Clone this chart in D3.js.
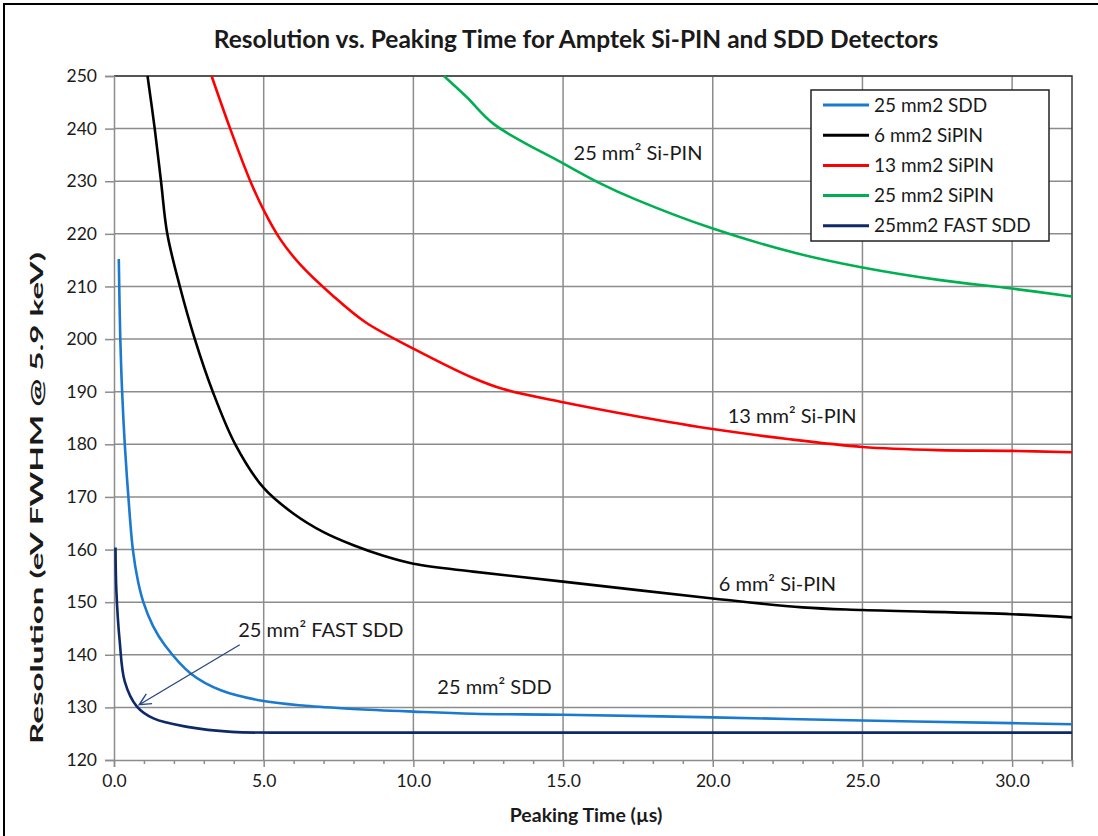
<!doctype html>
<html>
<head>
	<script src="https://d3js.org/d3.v7.min.js"></script>
	<style>
		body { margin: 0; background: #fff; }
		text { font-family: Lato, "Open Sans", sans-serif; fill: #1a1a1a; }
	</style>
</head>
<body>
	<svg id="chart" width="1098" height="836"></svg>
	<script>

		// series: peaking time (us) and resolution (eV FWHM)
		var sdd25T = [0.16, 0.21, 0.27, 0.36, 0.48, 0.63, 0.8, 0.98, 1.3, 1.7, 2.57, 3.59, 5, 6.4, 8, 10, 12, 15, 20, 25, 30, 32];
		var sdd25R = [215.2, 200, 190.2, 180, 170, 160, 154, 150, 145.5, 141.8, 136.4, 133.2, 131.2, 130.3, 129.7, 129.2, 128.8, 128.6, 128.1, 127.5, 127, 126.8];

		var pin6T = [1.12, 1.36, 1.57, 1.78, 2.2, 2.7, 3.3, 4.05, 5, 6, 7, 8, 9, 10, 12, 15, 20, 23, 25, 30, 32];
		var pin6R = [250, 240, 230, 220, 210, 200, 190, 180, 171.7, 166.8, 163.3, 160.8, 158.8, 157.3, 155.8, 153.9, 150.7, 149, 148.5, 147.7, 147.1];

		var pin13T = [3.26, 3.88, 4.54, 5, 5.55, 6.2, 7.3, 8.4, 10, 12, 13, 15, 17.5, 20, 22.5, 25, 27.5, 30, 32];
		var pin13R = [250, 240, 230.2, 224.5, 219, 214.3, 208.3, 203.2, 198.2, 192.6, 190.5, 188, 185.3, 182.9, 181, 179.5, 178.9, 178.75, 178.5];

		var pin25T = [11.02, 11.78, 12.7, 15, 16.24, 17.4, 20, 22.8, 25, 27.6, 30, 32];
		var pin25R = [250, 246, 240.8, 233.4, 229.6, 226.6, 221, 216.3, 213.6, 211.2, 209.6, 208.1];

		var fastT = [0.05, 0.08, 0.19, 0.36, 0.76, 1.32, 2.45, 3.93, 6.4, 10, 15, 20, 25, 30, 32];
		var fastR = [160.4, 152.1, 142.6, 134.9, 130.2, 127.9, 126.3, 125.35, 125.2, 125.2, 125.2, 125.2, 125.2, 125.2, 125.2];

		var seriesNames = ["25 mm2 SDD", "6 mm2 SiPIN", "13 mm2 SiPIN", "25 mm2 SiPIN", "25mm2 FAST SDD"];
		var seriesColors = ["#1a7ad0", "#000000", "#ff0000", "#00b050", "#0e2a66"];

		var xTicks = [0, 5, 10, 15, 20, 25, 30];
		var yTicks = [120, 130, 140, 150, 160, 170, 180, 190, 200, 210, 220, 230, 240, 250];

		// curve labels: [text, time, resolution]
		var labels = [
			["25 mm² Si-PIN", 15.35, 234.0],
			["13 mm² Si-PIN", 20.5, 184.0],
			["6 mm² Si-PIN", 20.2, 152.2],
			["25 mm² SDD", 10.8, 132.5],
			["25 mm² FAST SDD", 4.15, 143.3]
		];
		var arrowFrom = [4.2, 141.9];
		var arrowTo = [0.84, 130.5];

		var series = [
			{t: sdd25T, r: sdd25R},
			{t: pin6T, r: pin6R},
			{t: pin13T, r: pin13R},
			{t: pin25T, r: pin25R},
			{t: fastT, r: fastR}
		];

		var margin = {top: 76, right: 26, bottom: 76, left: 114};
		var width = 1098, height = 836;

		var svg = d3.select("#chart");

		// outer frame (left and top edges only are in the picture)
		svg.append("path")
			.attr("d", "M4,836V4H1098")
			.attr("fill", "none")
			.attr("stroke", "#000")
			.attr("stroke-width", 2);

		var xScale = d3.scaleLinear()
								.domain([0, 32])
								.range([margin.left, width - margin.right]);

		var yScale = d3.scaleLinear()
								.domain([120, 250])
								.range([height - margin.bottom, margin.top]);

		// grid
		svg.append("g")
			.selectAll("line")
			.data(xTicks.slice(1))
			.enter()
			.append("line")
				.attr("x1", d => xScale(d)).attr("x2", d => xScale(d))
				.attr("y1", yScale(120)).attr("y2", yScale(250))
				.attr("stroke", "#8c8c8c").attr("stroke-width", 1.5);

		svg.append("g")
			.selectAll("line")
			.data(yTicks.slice(1))
			.enter()
			.append("line")
				.attr("x1", xScale(0)).attr("x2", xScale(32))
				.attr("y1", d => yScale(d)).attr("y2", d => yScale(d))
				.attr("stroke", "#8c8c8c").attr("stroke-width", 1.5);

		// plot area border: top and right are dark
		svg.append("path")
			.attr("d", "M" + xScale(0) + "," + yScale(250) + "H" + xScale(32) + "V" + yScale(120))
			.attr("fill", "none")
			.attr("stroke", "#3a3a3a")
			.attr("stroke-width", 1.5);

		// axes
		var xAxis = d3.axisBottom(xScale)
			.tickValues(xTicks)
			.tickSize(7)
			.tickPadding(8)
			.tickFormat(d3.format(".1f"));

		var xMinor = d3.axisBottom(xScale)
			.tickValues(d3.range(0, 33, 1).filter(d => d % 5 !== 0))
			.tickSize(4)
			.tickFormat("");

		var yAxis = d3.axisLeft(yScale)
			.tickValues(yTicks)
			.tickSize(9)
			.tickPadding(8)
			.tickFormat(d3.format("d"));

		svg.append("g")
			.attr("transform", "translate(0," + yScale(120) + ")")
			.call(xAxis);
		svg.append("g")
			.attr("transform", "translate(0," + yScale(120) + ")")
			.call(xMinor)
			.call(g => g.select(".domain").remove());
		svg.append("g")
			.attr("transform", "translate(" + xScale(0) + ",0)")
			.call(yAxis);

		svg.selectAll(".domain, .tick line")
			.attr("stroke", "#8c8c8c")
			.attr("stroke-width", 1.5);
		svg.selectAll(".tick text")
			.style("font-size", "17.5px")
			.attr("fill", "#1a1a1a");

		// curves
		var line = d3.line()
			.x(d => xScale(d[0]))
			.y(d => yScale(d[1]))
			.curve(d3.curveCatmullRom.alpha(0.5));

		svg.append("g")
			.selectAll("path")
			.data(series)
			.enter()
			.append("path")
				.attr("d", d => line(d.t.map((t, i) => [t, d.r[i]])))
				.attr("fill", "none")
				.attr("stroke", (d, i) => seriesColors[i])
				.attr("stroke-width", 2.6);

		// curve labels
		svg.append("g")
			.selectAll("text")
			.data(labels)
			.enter()
			.append("text")
				.attr("x", d => xScale(d[1]))
				.attr("y", d => yScale(d[2]))
				.attr("font-size", 20)
				.text(d => d[0]);

		// arrow to the FAST SDD curve
		var ax1 = xScale(arrowFrom[0]), ay1 = yScale(arrowFrom[1]);
		var ax2 = xScale(arrowTo[0]), ay2 = yScale(arrowTo[1]);
		var ang = Math.atan2(ay1 - ay2, ax1 - ax2);
		var head = 13, spread = 0.45;
		svg.append("path")
			.attr("d", "M" + ax1 + "," + ay1 + "L" + ax2 + "," + ay2 +
				"M" + (ax2 + head * Math.cos(ang + spread)) + "," + (ay2 + head * Math.sin(ang + spread)) +
				"L" + ax2 + "," + ay2 +
				"L" + (ax2 + head * Math.cos(ang - spread)) + "," + (ay2 + head * Math.sin(ang - spread)))
			.attr("fill", "none")
			.attr("stroke", "#2a4a80")
			.attr("stroke-width", 1.4);

		// legend
		var legend = svg.append("g").attr("transform", "translate(811,90)");
		legend.append("rect")
			.attr("width", 238).attr("height", 151)
			.attr("fill", "#fff")
			.attr("stroke", "#222").attr("stroke-width", 1.5);
		var rows = legend.selectAll("g")
			.data(seriesNames)
			.enter()
			.append("g")
				.attr("transform", (d, i) => "translate(0," + (15 + i * 30.2) + ")");
		rows.append("line")
			.attr("x1", 12).attr("x2", 58)
			.attr("stroke", (d, i) => seriesColors[i])
			.attr("stroke-width", 3);
		rows.append("text")
			.attr("x", 63).attr("dy", "0.35em")
			.attr("font-size", 19)
			.text(d => d);

		// titles
		svg.append("text")
			.attr("x", 576).attr("y", 48)
			.attr("text-anchor", "middle")
			.attr("font-size", 24.5).attr("font-weight", "bold")
			.text("Resolution vs. Peaking Time for Amptek Si-PIN and SDD Detectors");

		svg.append("text")
			.attr("x", 586).attr("y", 822)
			.attr("text-anchor", "middle")
			.attr("font-size", 19.5).attr("font-weight", "bold")
			.text("Peaking Time (µs)");

		svg.append("text")
			.attr("transform", "translate(43,498) rotate(-90)")
			.attr("text-anchor", "middle")
			.attr("font-size", 16.5).attr("font-weight", "bold")
			.attr("textLength", 492)
			.attr("lengthAdjust", "spacingAndGlyphs")
			.text("Resolution (eV FWHM @ 5.9 keV)");

	</script>
</body>
</html>
